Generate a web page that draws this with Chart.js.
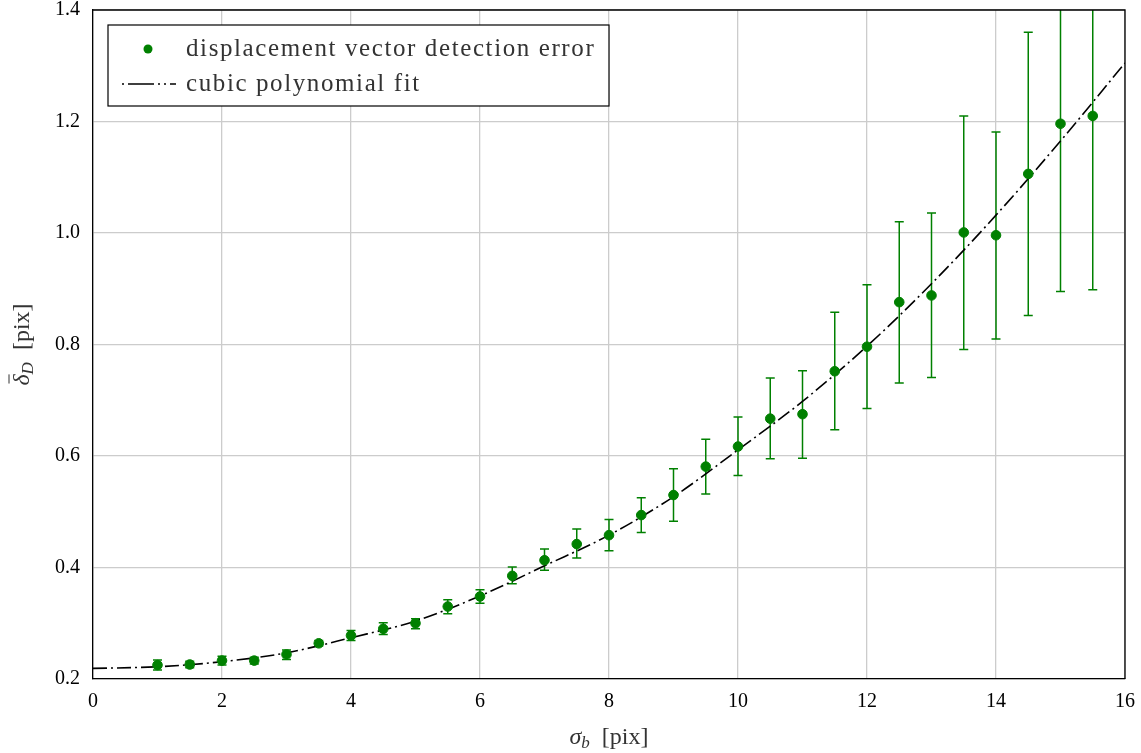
<!DOCTYPE html>
<html>
<head>
<meta charset="utf-8">
<script src="https://cdn.jsdelivr.net/npm/chart.js@4/dist/chart.umd.min.js"></script>
<style>
  html, body { margin: 0; padding: 0; background: #fff; }
  #wrap { width: 1141px; height: 753px; }
</style>
</head>
<body>
<div id="wrap"><canvas id="errChart"></canvas></div>
<script>
// blur sigma values (x) and measured detection error
const sigmaB = [1, 1.5, 2, 2.5, 3, 3.5, 4, 4.5, 5, 5.5, 6, 6.5, 7, 7.5, 8, 8.5,
                9, 9.5, 10, 10.5, 11, 11.5, 12, 12.5, 13, 13.5, 14, 14.5, 15, 15.5]
const errMean = [0.225, 0.226, 0.233, 0.233, 0.244, 0.264, 0.278, 0.290, 0.300, 0.330,
                 0.348, 0.385, 0.413, 0.442, 0.458, 0.494, 0.530, 0.581, 0.617, 0.667,
                 0.675, 0.752, 0.796, 0.876, 0.888, 1.001, 0.996, 1.106, 1.196, 1.210]
const errUpper = [0.234, 0.232, 0.241, 0.239, 0.252, 0.269, 0.287, 0.301, 0.308, 0.342,
                  0.360, 0.401, 0.433, 0.469, 0.486, 0.525, 0.577, 0.630, 0.670, 0.740,
                  0.753, 0.858, 0.907, 1.020, 1.036, 1.210, 1.181, 1.360, 1.497, 1.522]
const errLower = [0.216, 0.220, 0.225, 0.227, 0.235, 0.259, 0.269, 0.280, 0.290, 0.317,
                  0.336, 0.371, 0.395, 0.417, 0.430, 0.463, 0.483, 0.532, 0.565, 0.595,
                  0.596, 0.647, 0.685, 0.731, 0.741, 0.791, 0.810, 0.852, 0.895, 0.898]

// fit curve
const fitX = [0, 1, 2, 3, 4, 5, 6, 7, 8, 9, 10, 11, 12, 13, 14, 15, 16]
const fitY = [0.219, 0.222, 0.231, 0.247, 0.274, 0.304, 0.349, 0.403, 0.458, 0.527,
              0.611, 0.698, 0.797, 0.909, 1.032, 1.165, 1.305]

const xTicks = [0, 2, 4, 6, 8, 10, 12, 14, 16]
const yTicks = [0.2, 0.4, 0.6, 0.8, 1.0, 1.2, 1.4]

const legendLabels = ["displacement vector detection error", "cubic polynomial fit"]

const GREEN = "#008000"
const TEXT = "#333"
const SERIF = "'Liberation Serif', 'DejaVu Serif', serif"
const FIT_DASH = [14, 4, 2, 4]

// error bars, drawn with the chart's own scales
const errorBars = {
    id: "errorBars",
    beforeDatasetsDraw(chart){
        const {ctx, chartArea, scales:{x, y}} = chart
        ctx.save()
        ctx.beginPath()
        ctx.rect(chartArea.left, chartArea.top, chartArea.width, chartArea.height)
        ctx.clip()
        ctx.strokeStyle = GREEN
        ctx.lineWidth = 1.5
        sigmaB.forEach((s, i) => {
            const px = x.getPixelForValue(s)
            const top = y.getPixelForValue(errUpper[i])
            const bot = y.getPixelForValue(errLower[i])
            ctx.beginPath()
            ctx.moveTo(px, top); ctx.lineTo(px, bot)
            ctx.moveTo(px - 4.5, top); ctx.lineTo(px + 4.5, top)
            ctx.moveTo(px - 4.5, bot); ctx.lineTo(px + 4.5, bot)
            ctx.stroke()
        })
        ctx.restore()
    }
}

// frame on top/right, legend box inside the plot, axis titles with subscripts
const decorations = {
    id: "decorations",
    afterDraw(chart){
        const {ctx, chartArea} = chart
        ctx.save()
        ctx.strokeStyle = "#000"
        ctx.lineWidth = 1.3
        ctx.beginPath()
        ctx.moveTo(chartArea.left, chartArea.top)
        ctx.lineTo(chartArea.right, chartArea.top)
        ctx.lineTo(chartArea.right, chartArea.bottom)
        ctx.stroke()

        // legend
        const lx = chartArea.left + 15, ly = chartArea.top + 15
        const lw = 501, lh = 81
        ctx.fillStyle = "#fff"
        ctx.fillRect(lx, ly, lw, lh)
        ctx.strokeStyle = "#000"
        ctx.lineWidth = 1.2
        ctx.strokeRect(lx, ly, lw, lh)

        ctx.fillStyle = GREEN
        ctx.beginPath()
        ctx.arc(lx + 40, ly + 24, 4.5, 0, Math.PI * 2)
        ctx.fill()

        ctx.strokeStyle = "#000"
        ctx.lineWidth = 1.6
        ctx.setLineDash([2, 4, 26, 4, 2, 4])
        ctx.beginPath()
        ctx.moveTo(lx + 14, ly + 59); ctx.lineTo(lx + 68, ly + 59)
        ctx.stroke()
        ctx.setLineDash([])

        ctx.fillStyle = TEXT
        ctx.font = "25px " + SERIF
        ctx.letterSpacing = "1.6px"
        ctx.textBaseline = "middle"
        ctx.textAlign = "left"
        ctx.fillText(legendLabels[0], lx + 78, ly + 24)
        ctx.fillText(legendLabels[1], lx + 78, ly + 59)
        ctx.letterSpacing = "0px"

        // x title: sigma_b [pix]
        const cx = (chartArea.left + chartArea.right) / 2
        ctx.textBaseline = "alphabetic"
        ctx.font = "italic 24px " + SERIF
        const wSig = ctx.measureText("σ").width
        ctx.font = "italic 17px " + SERIF
        const wSub = ctx.measureText("b").width
        ctx.font = "24px " + SERIF
        const wRest = ctx.measureText("  [pix]").width
        let tx = cx - (wSig + wSub + wRest) / 2
        const base = 744
        ctx.font = "italic 24px " + SERIF
        ctx.fillText("σ", tx, base); tx += wSig
        ctx.font = "italic 17px " + SERIF
        ctx.fillText("b", tx, base + 4); tx += wSub
        ctx.font = "24px " + SERIF
        ctx.fillText("  [pix]", tx, base)

        // y title: delta-bar_D [pix], rotated
        ctx.translate(29, (chartArea.top + chartArea.bottom) / 2)
        ctx.rotate(-Math.PI / 2)
        ctx.font = "italic 24px " + SERIF
        const wD = ctx.measureText("δ").width
        ctx.font = "italic 17px " + SERIF
        const wDs = ctx.measureText("D").width
        ctx.font = "24px " + SERIF
        const wR = ctx.measureText("  [pix]").width
        let ty = -(wD + wDs + wR) / 2
        ctx.font = "italic 24px " + SERIF
        ctx.fillText("δ", ty, 0)
        ctx.strokeStyle = TEXT
        ctx.lineWidth = 1
        ctx.beginPath()
        ctx.moveTo(ty + 2, -20); ctx.lineTo(ty + wD, -20)
        ctx.stroke()
        ty += wD
        ctx.font = "italic 17px " + SERIF
        ctx.fillText("D", ty, 4); ty += wDs
        ctx.font = "24px " + SERIF
        ctx.fillText("  [pix]", ty, 0)
        ctx.restore()
    }
}

new Chart(document.getElementById("errChart"), {
    type: "scatter",
    data: {
        datasets: [
            {
                label: legendLabels[0],
                data: sigmaB.map((s, i) => ({x: s, y: errMean[i]})),
                backgroundColor: GREEN,
                borderColor: GREEN,
                pointRadius: 4.8,
                pointHoverRadius: 4.8,
                showLine: false,
                order: 0
            },
            {
                label: legendLabels[1],
                data: fitX.map((s, i) => ({x: s, y: fitY[i]})),
                borderColor: "#000",
                borderWidth: 1.6,
                borderDash: FIT_DASH,
                pointRadius: 0,
                showLine: true,
                cubicInterpolationMode: "monotone",
                order: 1
            }
        ]
    },
    options: {
        responsive: true,
        maintainAspectRatio: false,
        animation: false,
        layout: { padding: { top: 10, right: 16, left: 0, bottom: 0 } },
        plugins: {
            legend: { display: false },
            tooltip: { enabled: false }
        },
        scales: {
            x: {
                type: "linear",
                min: 0, max: 16,
                afterBuildTicks: (axis) => { axis.ticks = xTicks.map(v => ({value: v})) },
                afterFit: (axis) => {
                    axis.height = 74
                    axis.paddingLeft = 0
                    axis.paddingRight = 0
                },
                ticks: { color: "#000", font: { family: SERIF, size: 20 }, padding: 11 },
                grid: { color: "#cccccc", lineWidth: 1.3, drawTicks: false },
                border: { color: "#000", width: 1.3 }
            },
            y: {
                type: "linear",
                min: 0.2, max: 1.4,
                afterBuildTicks: (axis) => { axis.ticks = yTicks.map(v => ({value: v})) },
                afterFit: (axis) => {
                    axis.width = 93
                    axis.paddingTop = 0
                    axis.paddingBottom = 0
                },
                ticks: {
                    color: "#000",
                    font: { family: SERIF, size: 20 },
                    padding: 13,
                    callback: (v) => v.toFixed(1)
                },
                grid: { color: "#cccccc", lineWidth: 1.3, drawTicks: false },
                border: { color: "#000", width: 1.3 }
            }
        }
    },
    plugins: [errorBars, decorations]
})
</script>
</body>
</html>
